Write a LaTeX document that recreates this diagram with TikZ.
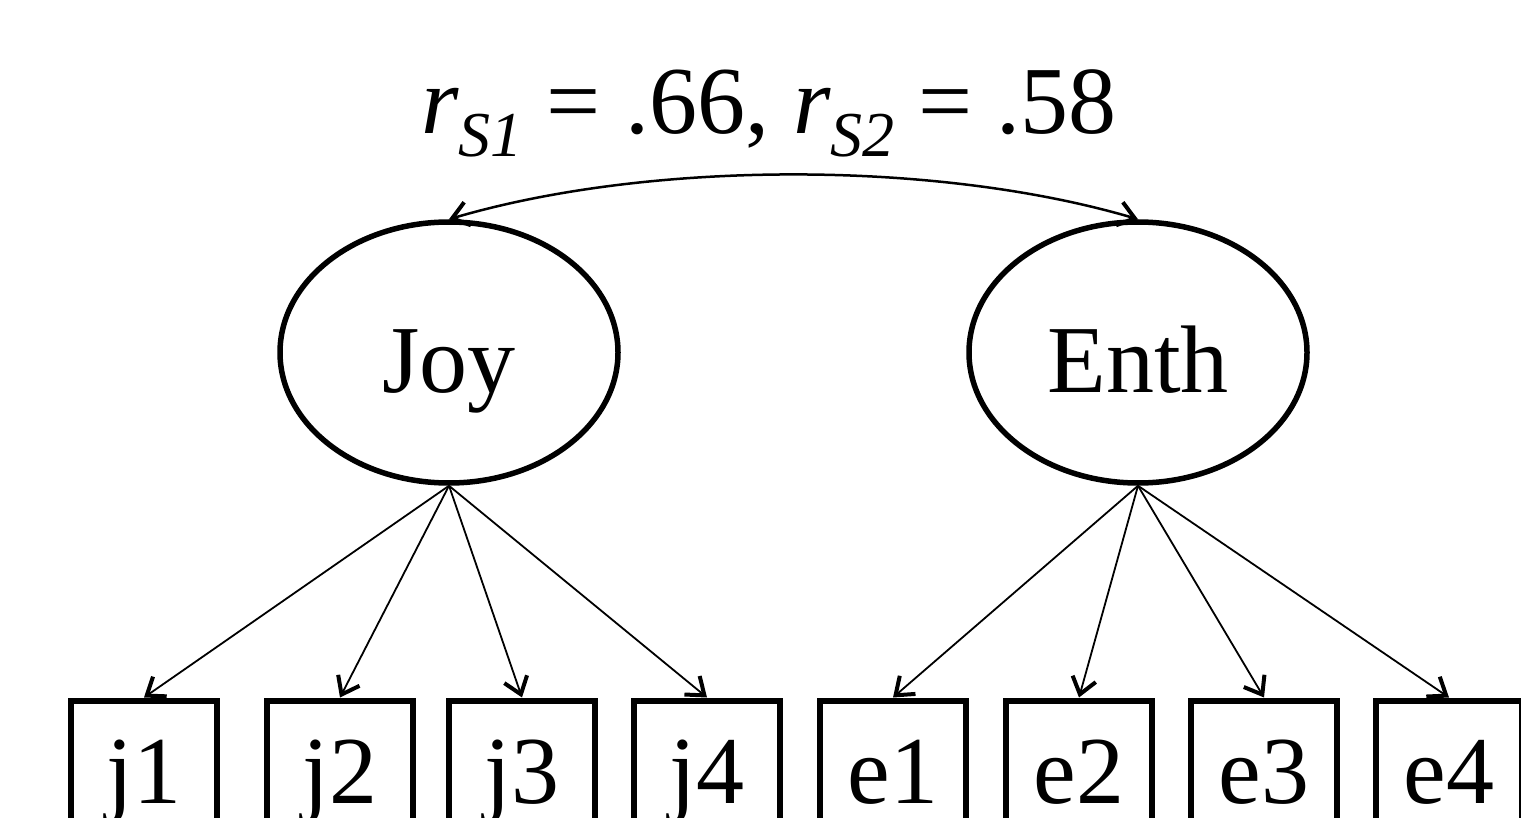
\documentclass[tikz,border=0pt]{standalone}
\usepackage{fontspec}
\setmainfont{Liberation Serif}
\usetikzlibrary{arrows.meta,shapes.geometric}
\begin{document}
\begin{tikzpicture}[x=1pt,y=-1pt,
  big/.style={font=\fontsize{96}{100}\selectfont},
  latent/.style={ellipse, draw, line width=5.5pt, minimum width=338pt, minimum height=261pt,
    inner sep=0pt, big, text height=79pt, text depth=0pt},
  obs/.style={rectangle, draw, line width=6.5pt, minimum width=146pt, minimum height=142pt,
    inner sep=0pt, big, text height=64pt, text depth=0pt, anchor=north},
  barb/.tip={Straight Barb[length=16pt,width=24pt,line width=4pt]},
  load/.style={line width=1.8pt, -barb},
  cov/.style={line width=2.5pt, barb-barb}
]
\path[use as bounding box] (0,0) rectangle (1521,818);
\clip (0,0) rectangle (1521,818);

\node[big, anchor=base, inner sep=0pt] (title) at (769,134)
  {\textit{r}\raisebox{-23pt}{\fontsize{64}{64}\selectfont\textit{S1}} = .66, \textit{r}\raisebox{-23pt}{\fontsize{64}{64}\selectfont\textit{S2}} = .58};

\node[latent] (joy) at (449,352.5) {Joy};
\node[latent] (enth) at (1138,352.5) {Enth};

\node[obs] (j1) at (144,697.5) {j1};
\node[obs] (j2) at (340,697.5) {j2};
\node[obs] (j3) at (522,697.5) {j3};
\node[obs] (j4) at (707,697.5) {j4};
\node[obs] (e1) at (893,697.5) {e1};
\node[obs] (e2) at (1079,697.5) {e2};
\node[obs] (e3) at (1264,697.5) {e3};
\node[obs] (e4) at (1449,697.5) {e4};

\draw[cov] (joy.north) .. controls (650,160) and (937,160) .. (enth.north);

\foreach \b in {j1,j2,j3,j4} \draw[load] (joy.south) -- (\b.north);
\foreach \b in {e1,e2,e3,e4} \draw[load] (enth.south) -- (\b.north);
\end{tikzpicture}
\end{document}
